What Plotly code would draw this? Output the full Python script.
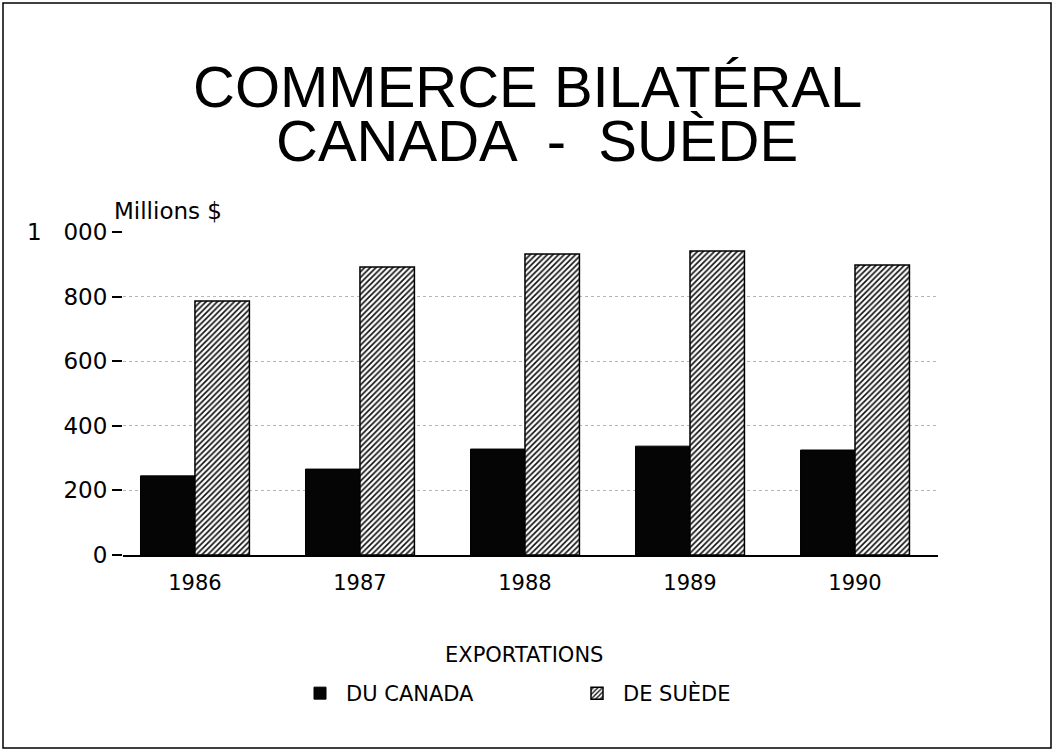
import plotly.graph_objects as go

years = ["1986", "1987", "1988", "1989", "1990"]
canada_exports = [245, 266, 328, 337, 325]
sweden_exports = [786, 892, 932, 941, 898]
y_tickvals = [0, 200, 400, 600, 800, 1000]
y_ticktext = ["0", "200", "400", "600", "800", "1\u00a0\u00a0\u00a0000"]

W, H = 1054, 751
ML, MR, MT, MB = 123, 116, 232, 196
PW, PH = W - ML - MR, H - MT - MB


def px(x):
    return (x - ML) / PW


def py(y):
    return (H - MB - y) / PH


fig = go.Figure()
fig.add_trace(go.Bar(
    x=years, y=canada_exports, name="DU CANADA",
    marker=dict(color="#050505", line=dict(color="#000", width=1)),
))
fig.add_trace(go.Bar(
    x=years, y=sweden_exports, name="DE SUÈDE",
    marker=dict(color="white", line=dict(color="#000", width=1.5),
                pattern=dict(shape="/", size=4, solidity=0.42,
                             fgcolor="#111", bgcolor="white", fillmode="replace")),
))

fig.update_layout(
    width=W, height=H,
    margin=dict(l=ML, r=MR, t=MT, b=MB, autoexpand=False),
    paper_bgcolor="white", plot_bgcolor="white",
    barmode="group", bargap=0.34, bargroupgap=0,
    font=dict(family="DejaVu Sans", color="#000"),
    showlegend=True,
    legend=dict(
        orientation="h", x=px(294), xanchor="left", y=py(673), yanchor="top",
        font=dict(family="DejaVu Sans", size=21, color="#000"),
        itemwidth=42,
        entrywidth=220, entrywidthmode="pixels",
        bgcolor="rgba(0,0,0,0)",
    ),
    xaxis=dict(
        type="category", range=[-0.436, 4.503],
        showline=True, linecolor="#000", linewidth=1.5,
        ticks="", showgrid=False,
        tickfont=dict(family="DejaVu Sans", size=21, color="#000"),
        ticklabelstandoff=8,
    ),
    yaxis=dict(
        range=[0, 1000], tickvals=y_tickvals, ticktext=y_ticktext,
        ticks="outside", ticklen=10, tickwidth=1.5, tickcolor="#000",
        showline=False, zeroline=False,
        showgrid=True, gridcolor="#b5b5b5", gridwidth=1, griddash="dot",
        tickfont=dict(family="DejaVu Sans", size=23, color="#000"),
    ),
    annotations=[
        dict(text="COMMERCE BILATÉRAL", xref="paper", yref="paper",
             x=px(527), y=py(86), xanchor="center", yanchor="middle",
             showarrow=False,
             font=dict(family="Liberation Sans", size=58, color="#000")),
        dict(text="CANADA  -  SUÈDE", xref="paper", yref="paper",
             x=px(537), y=py(140), xanchor="center", yanchor="middle",
             showarrow=False,
             font=dict(family="Liberation Sans", size=58, color="#000")),
        dict(text="Millions $", xref="paper", yref="paper",
             x=px(112), y=py(211), xanchor="left", yanchor="middle",
             showarrow=False,
             font=dict(family="DejaVu Sans", size=23, color="#000")),
        dict(text="EXPORTATIONS", xref="paper", yref="paper",
             x=px(524), y=py(655), xanchor="center", yanchor="middle",
             showarrow=False,
             font=dict(family="DejaVu Sans", size=21, color="#000")),
    ],
    shapes=[
        dict(type="rect", xref="paper", yref="paper",
             x0=px(3), x1=px(1051), y0=py(748), y1=py(3),
             line=dict(color="#000", width=1.5), fillcolor="rgba(0,0,0,0)",
             layer="below"),
    ],
)

fig.write_html("out.html", config={"displayModeBar": False},
               post_script="document.body.style.margin='0';document.body.style.overflow='hidden';")
